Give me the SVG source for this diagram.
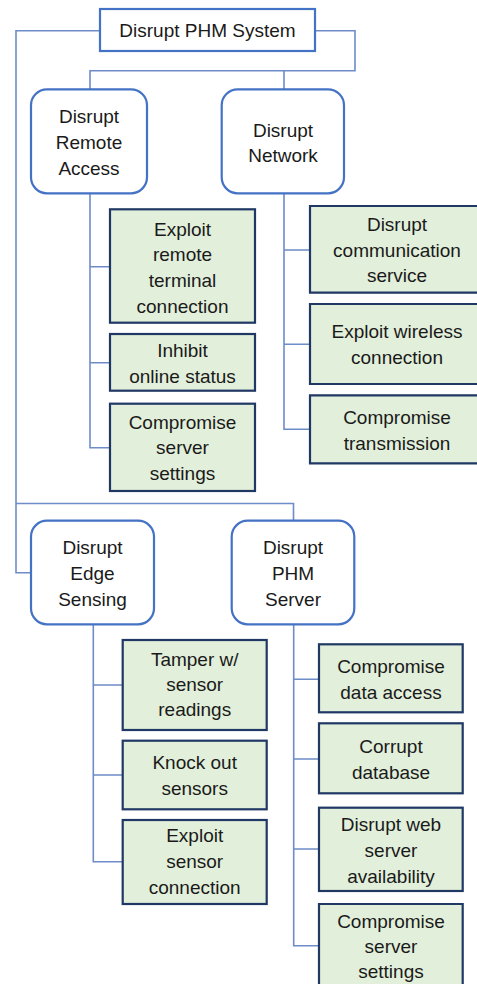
<svg xmlns="http://www.w3.org/2000/svg" width="477" height="984" viewBox="0 0 477 984">
<style>
text{font-family:"Liberation Sans",Arial,sans-serif;font-size:19px;fill:#1a1a1a;text-anchor:middle}
.conn{fill:none;stroke:#6E8CC8;stroke-width:1.6}
.root{fill:#fff;stroke:#4472C4;stroke-width:2.2}
.mid{fill:#fff;stroke:#4472C4;stroke-width:2.2}
.leaf{fill:#E2EFDA;stroke:#203864;stroke-width:2.2}
.leaffill{fill:#E2EFDA;stroke:none}
.leafedge{fill:none;stroke:#203864;stroke-width:2.2}
</style>
<rect width="477" height="984" fill="#fff"/>
<g id="connectors">
<path class="conn" d="M100,30.7 H16 V572.7 H31"/>
<path class="conn" d="M315,30.7 H355 V70.7 H90 V89"/>
<path class="conn" d="M284,70.7 V89"/>
<path class="conn" d="M16,503.5 H293.5 V521"/>
<path class="conn" d="M90,193 V447.7 H110 M90,266.7 H110 M90,362.7 H110"/>
<path class="conn" d="M284,193 V429.3 H310 M284,250 H310 M284,344.3 H310"/>
<path class="conn" d="M93.3,624 V861.7 H122.7 M93.3,685 H122.7 M93.3,775 H122.7"/>
<path class="conn" d="M293.7,624 V945.7 H319 M293.7,679.3 H319 M293.7,759 H319 M293.7,849 H319"/>
</g>
<g id="root">
<rect class="root" x="100" y="9" width="215" height="42"/>
<text x="207.5" y="36.5">Disrupt PHM System</text>
</g>
<g id="remote-access">
<rect class="mid" x="31" y="89.3" width="116" height="104" rx="16"/>
<text x="89" y="123">Disrupt</text><text x="89" y="149">Remote</text><text x="89" y="175">Access</text>
</g>
<g id="network">
<rect class="mid" x="221.7" y="89.3" width="122.3" height="104" rx="16"/>
<text x="283" y="137">Disrupt</text><text x="283" y="162">Network</text>
</g>
<g id="exploit-remote-terminal">
<rect class="leaf" x="110" y="209.3" width="145" height="113.4"/>
<text x="182.5" y="235.5">Exploit</text><text x="182.5" y="261">remote</text><text x="182.5" y="287">terminal</text><text x="182.5" y="312.5">connection</text>
</g>
<g id="inhibit-online">
<rect class="leaf" x="110" y="334" width="145" height="56.7"/>
<text x="182.5" y="356.5">Inhibit</text><text x="182.5" y="382.5">online status</text>
</g>
<g id="compromise-server-settings-1">
<rect class="leaf" x="110" y="403.7" width="145" height="87.3"/>
<text x="182.5" y="428.5">Compromise</text><text x="182.5" y="454">server</text><text x="182.5" y="479.5">settings</text>
</g>
<g id="disrupt-communication">
<rect class="leaffill" x="310" y="206" width="167" height="86.7"/>
<path class="leafedge" d="M478,206 H310 V292.7 H478"/>
<text x="397" y="230.5">Disrupt</text><text x="397" y="256.5">communication</text><text x="397" y="282">service</text>
</g>
<g id="exploit-wireless">
<rect class="leaffill" x="310" y="304" width="167" height="80"/>
<path class="leafedge" d="M478,304 H310 V384 H478"/>
<text x="397" y="338">Exploit wireless</text><text x="397" y="364">connection</text>
</g>
<g id="compromise-transmission">
<rect class="leaffill" x="310" y="395.3" width="167" height="68"/>
<path class="leafedge" d="M478,395.3 H310 V463.3 H478"/>
<text x="397" y="424">Compromise</text><text x="397" y="449.5">transmission</text>
</g>
<g id="edge-sensing">
<rect class="mid" x="31" y="520.7" width="123" height="103.6" rx="16"/>
<text x="92.5" y="554">Disrupt</text><text x="92.5" y="580">Edge</text><text x="92.5" y="605.5">Sensing</text>
</g>
<g id="phm-server">
<rect class="mid" x="231.7" y="520.7" width="122.6" height="103.6" rx="16"/>
<text x="293" y="554">Disrupt</text><text x="293" y="580">PHM</text><text x="293" y="605.5">Server</text>
</g>
<g id="tamper-sensor">
<rect class="leaf" x="122.7" y="640" width="144" height="90"/>
<text x="194.7" y="665.5">Tamper w/</text><text x="194.7" y="691">sensor</text><text x="194.7" y="716">readings</text>
</g>
<g id="knock-out-sensors">
<rect class="leaf" x="122.7" y="740.7" width="144" height="68.6"/>
<text x="194.7" y="769">Knock out</text><text x="194.7" y="794.5">sensors</text>
</g>
<g id="exploit-sensor-connection">
<rect class="leaf" x="122.7" y="820" width="144" height="84"/>
<text x="194.7" y="841.5">Exploit</text><text x="194.7" y="867.5">sensor</text><text x="194.7" y="893.5">connection</text>
</g>
<g id="compromise-data-access">
<rect class="leaf" x="319" y="644.3" width="143.7" height="68"/>
<text x="391" y="673">Compromise</text><text x="391" y="698.5">data access</text>
</g>
<g id="corrupt-database">
<rect class="leaf" x="319" y="723.3" width="143.7" height="70"/>
<text x="391" y="753">Corrupt</text><text x="391" y="779">database</text>
</g>
<g id="disrupt-web-server">
<rect class="leaf" x="319" y="807.7" width="143.7" height="83.3"/>
<text x="391" y="831">Disrupt web</text><text x="391" y="857">server</text><text x="391" y="882.5">availability</text>
</g>
<g id="compromise-server-settings-2">
<rect class="leaffill" x="319" y="904" width="143.7" height="80"/>
<path class="leafedge" d="M319,985 V904 H462.7 V985"/>
<text x="391" y="927.5">Compromise</text><text x="391" y="953">server</text><text x="391" y="978">settings</text>
</g>
</svg>
